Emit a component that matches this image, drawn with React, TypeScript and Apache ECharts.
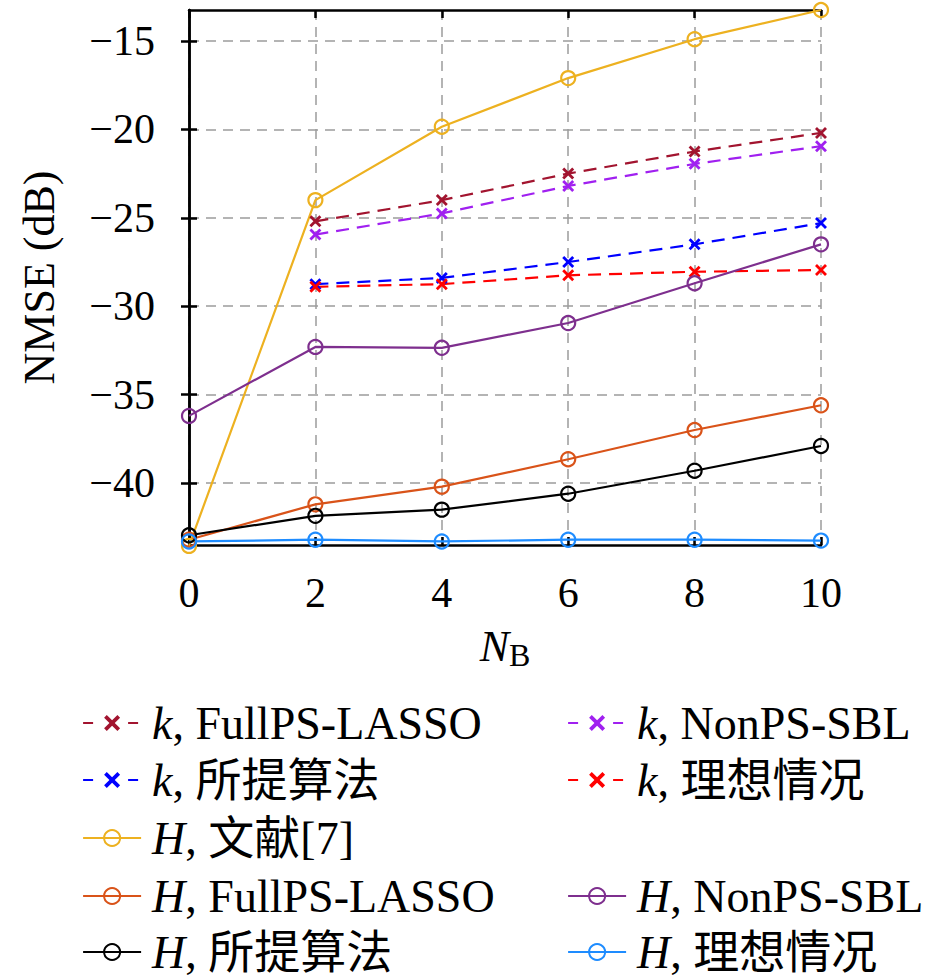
import React, { useEffect, useRef } from "react";
import * as echarts from "echarts";

// ---------------- data ----------------
const xValues = [0, 2, 4, 6, 8, 10];
const xTickLabels = ["0", "2", "4", "6", "8", "10"];
const yTickValues = [-40, -35, -30, -25, -20, -15];
const yMin = -43.5;
const yMax = -13.25;

const kFullPSLasso = [null, -25.2, -24.0, -22.5, -21.25, -20.2];
const kNonPSSBL = [null, -25.95, -24.75, -23.2, -21.95, -20.95];
const kProposed = [null, -28.75, -28.4, -27.5, -26.5, -25.3];
const kIdeal = [null, -28.9, -28.75, -28.25, -28.05, -27.95];
const hRef7 = [-43.55, -24.0, -19.85, -17.1, -14.9, -13.25];
const hFullPSLasso = [-43.2, -41.2, -40.2, -38.65, -37.0, -35.6];
const hNonPSSBL = [-36.2, -32.3, -32.35, -30.95, -28.7, -26.5];
const hProposed = [-42.95, -41.85, -41.5, -40.6, -39.3, -37.9];
const hIdeal = [-43.3, -43.2, -43.3, -43.2, -43.2, -43.25];

const seriesNames = [
  "k, FullPS-LASSO",
  "k, NonPS-SBL",
  "k, 所提算法",
  "k, 理想情况",
  "H, 文献[7]",
  "H, FullPS-LASSO",
  "H, NonPS-SBL",
  "H, 所提算法",
  "H, 理想情况",
];
const seriesValues = [
  kFullPSLasso,
  kNonPSSBL,
  kProposed,
  kIdeal,
  hRef7,
  hFullPSLasso,
  hNonPSSBL,
  hProposed,
  hIdeal,
];

// ---------------- styles ----------------
const seriesColors = [
  "#A2142F",
  "#A020F0",
  "#0000FF",
  "#FF0000",
  "#EDB120",
  "#D95319",
  "#7E2F8E",
  "#000000",
  "#1E8CFF",
];
const seriesDashed = [true, true, true, true, false, false, false, false, false];

// legend layout: [left, centerY]
const legendLayout: [number, number][] = [
  [82, 723],
  [567, 723],
  [82, 780],
  [567, 780],
  [82, 838],
  [82, 896],
  [567, 896],
  [82, 952],
  [567, 952],
];

const FONT = "'Liberation Serif', 'Noto Sans CJK SC', serif";
const CROSS =
  "path://M2,0 L6,4 L10,0 L12,2 L8,6 L12,10 L10,12 L6,8 L2,12 L0,10 L4,6 L0,2 Z";

const fmtNum = (v: number) => (v < 0 ? "\u2212" + Math.abs(v) : String(v));

export default function App() {
  const ref = useRef<HTMLDivElement>(null);

  useEffect(() => {
    if (!ref.current) return;
    const chart = echarts.init(ref.current, undefined, { renderer: "svg" });

    const series = seriesNames.map((name, i) => {
      const dashed = seriesDashed[i];
      const c = seriesColors[i];
      return {
        name,
        type: "line",
        clip: false,
        data: xValues
          .map((x, j) => [x, seriesValues[i][j]])
          .filter((p) => p[1] !== null),
        symbol: dashed ? CROSS : "circle",
        symbolSize: dashed ? 12 : 14,
        lineStyle: { color: c, width: 2.2, type: dashed ? [13, 8] : "solid" },
        itemStyle: dashed
          ? { color: c, borderWidth: 0 }
          : { color: "transparent", borderColor: c, borderWidth: 2.2 },
        emphasis: { disabled: true },
        z: 3,
      };
    });

    const legends = seriesNames.map((name, i) => ({
      show: true,
      data: [name],
      orient: "vertical",
      padding: 0,
      left: legendLayout[i][0],
      top: legendLayout[i][1] - 23,
      itemWidth: 58,
      itemHeight: 20,
      selectedMode: false,
      lineStyle: seriesDashed[i]
        ? { type: [10, 35], width: 2.2 }
        : { width: 2.2 },
      formatter: (n: string) => `{i|${n[0]}}${n.slice(1)}`,
      textStyle: {
        fontFamily: FONT,
        fontSize: 46,
        lineHeight: 46,
        color: "#000",
        padding: [0, 0, 0, 6],
        rich: {
          i: {
            fontFamily: FONT,
            fontSize: 46,
            lineHeight: 46,
            fontStyle: "italic",
            color: "#000",
          },
        },
      },
    }));

    const gridLine = {
      show: true,
      lineStyle: { color: "#9c9c9c", width: 1.5, type: [10, 7] },
    };
    const frameLine = { show: true, lineStyle: { color: "#000", width: 2.5 } };
    const tickIn = {
      show: true,
      inside: true,
      length: 8,
      lineStyle: { color: "#000", width: 2.5 },
    };

    chart.setOption({
      animation: false,
      backgroundColor: "#fff",
      grid: { left: 189, top: 10, width: 632, height: 535 },
      legend: legends,
      xAxis: [
        {
          type: "value",
          min: 0,
          max: 10,
          interval: 2,
          position: "bottom",
          axisLine: frameLine,
          axisTick: tickIn,
          splitLine: gridLine,
          axisLabel: {
            margin: 27,
            fontFamily: FONT,
            fontSize: 42,
            color: "#000",
            formatter: (v: number) => xTickLabels[xValues.indexOf(v)] ?? String(v),
          },
          name: "{i|N}{s|B}",
          nameLocation: "middle",
          nameGap: 76,
          nameTextStyle: {
            rich: {
              i: {
                fontFamily: FONT,
                fontSize: 44,
                fontStyle: "italic",
                color: "#000",
                lineHeight: 50,
              },
              s: {
                fontFamily: FONT,
                fontSize: 32,
                color: "#000",
                lineHeight: 30,
                verticalAlign: "bottom",
              },
            },
          },
        },
        {
          type: "value",
          min: 0,
          max: 10,
          interval: 2,
          position: "top",
          axisLine: frameLine,
          axisTick: tickIn,
          splitLine: { show: false },
          axisLabel: { show: false },
        },
      ],
      yAxis: [
        {
          type: "value",
          min: yMin,
          max: yMax,
          position: "left",
          axisLine: frameLine,
          axisTick: { ...tickIn, customValues: yTickValues },
          splitLine: gridLine,
          axisLabel: {
            customValues: yTickValues,
            margin: 34,
            fontFamily: FONT,
            fontSize: 42,
            color: "#000",
            formatter: (v: number) => fmtNum(v),
          },
          name: "NMSE (dB)",
          nameLocation: "middle",
          nameRotate: 90,
          nameGap: 128,
          nameTextStyle: { fontFamily: FONT, fontSize: 44, color: "#000" },
        },
        {
          type: "value",
          min: yMin,
          max: yMax,
          position: "right",
          axisLine: frameLine,
          axisTick: { ...tickIn, customValues: yTickValues },
          splitLine: { show: false },
          axisLabel: { show: false, customValues: yTickValues },
        },
      ],
      series,
    });

    return () => chart.dispose();
  }, []);

  return (
    <div
      ref={ref}
      style={{ position: "absolute", left: 0, top: 0, width: 945, height: 978 }}
    />
  );
}
